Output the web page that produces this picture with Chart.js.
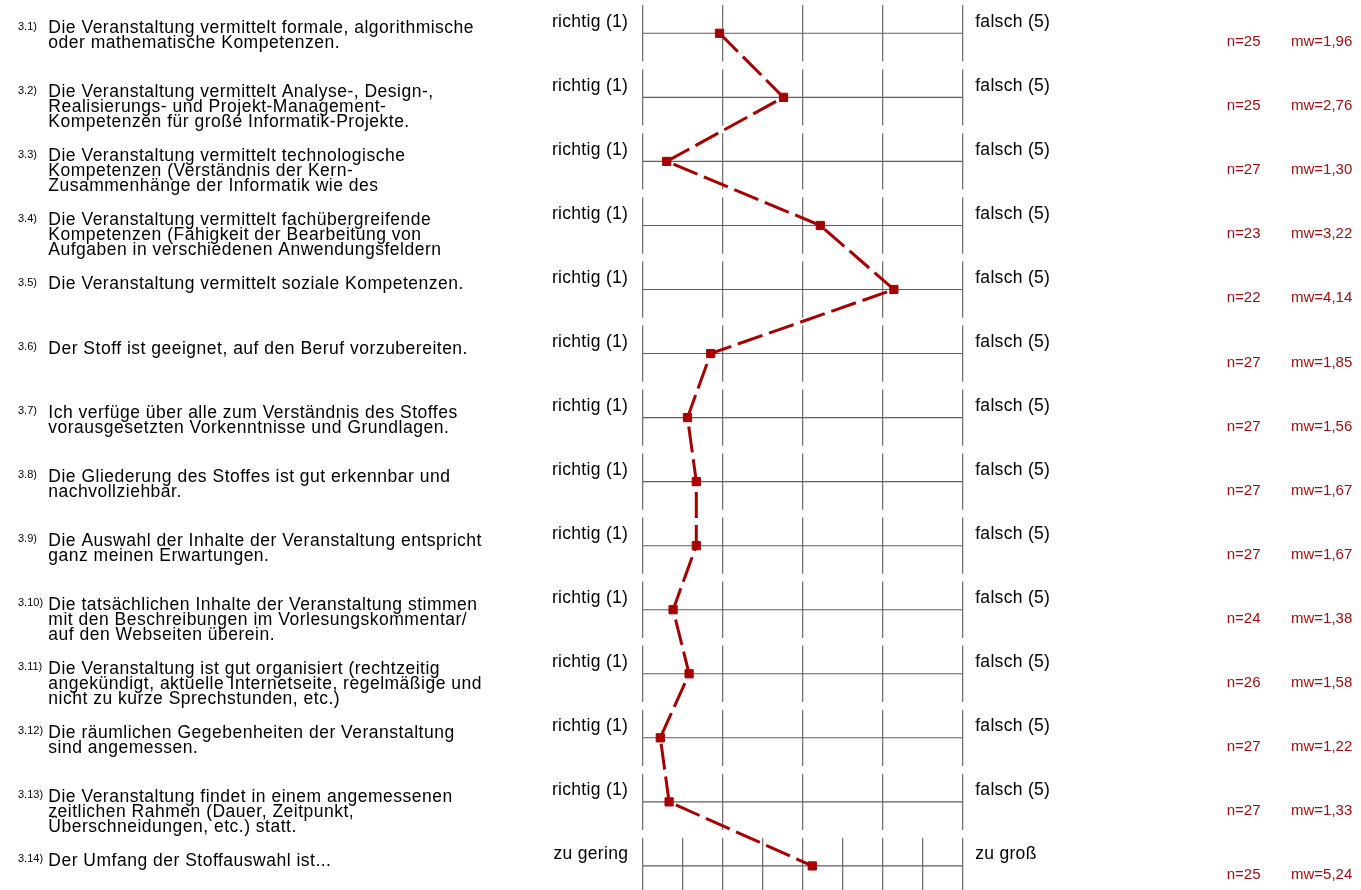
<!DOCTYPE html>
<html>
<head>
<meta charset="utf-8">
<script src="https://cdn.jsdelivr.net/npm/chart.js@4"></script>
<style>
  html, body { margin: 0; padding: 0; background: #fff; }
  #wrap { width: 1361px; height: 890px; position: relative; }
</style>
</head>
<body>
<div id="wrap"><canvas id="profile"></canvas></div>
<script>
// Data
const itemNumbers = ['3.1)', '3.2)', '3.3)', '3.4)', '3.5)', '3.6)', '3.7)',
  '3.8)', '3.9)', '3.10)', '3.11)', '3.12)', '3.13)', '3.14)'];

const questions = [
  ['Die Veranstaltung vermittelt formale, algorithmische', 'oder mathematische Kompetenzen.'],
  ['Die Veranstaltung vermittelt Analyse-, Design-,', 'Realisierungs- und Projekt-Management-', 'Kompetenzen für große Informatik-Projekte.'],
  ['Die Veranstaltung vermittelt technologische', 'Kompetenzen (Verständnis der Kern-', 'Zusammenhänge der Informatik wie des'],
  ['Die Veranstaltung vermittelt fachübergreifende', 'Kompetenzen (Fähigkeit der Bearbeitung von', 'Aufgaben in verschiedenen Anwendungsfeldern'],
  ['Die Veranstaltung vermittelt soziale Kompetenzen.'],
  ['Der Stoff ist geeignet, auf den Beruf vorzubereiten.'],
  ['Ich verfüge über alle zum Verständnis des Stoffes', 'vorausgesetzten Vorkenntnisse und Grundlagen.'],
  ['Die Gliederung des Stoffes ist gut erkennbar und', 'nachvollziehbar.'],
  ['Die Auswahl der Inhalte der Veranstaltung entspricht', 'ganz meinen Erwartungen.'],
  ['Die tatsächlichen Inhalte der Veranstaltung stimmen', 'mit den Beschreibungen im Vorlesungskommentar/', 'auf den Webseiten überein.'],
  ['Die Veranstaltung ist gut organisiert (rechtzeitig', 'angekündigt, aktuelle Internetseite, regelmäßige und', 'nicht zu kurze Sprechstunden, etc.)'],
  ['Die räumlichen Gegebenheiten der Veranstaltung', 'sind angemessen.'],
  ['Die Veranstaltung findet in einem angemessenen', 'zeitlichen Rahmen (Dauer, Zeitpunkt,', 'Überschneidungen, etc.) statt.'],
  ['Der Umfang der Stoffauswahl ist...']
];

const leftLabels = ['richtig (1)', 'richtig (1)', 'richtig (1)', 'richtig (1)', 'richtig (1)',
  'richtig (1)', 'richtig (1)', 'richtig (1)', 'richtig (1)', 'richtig (1)',
  'richtig (1)', 'richtig (1)', 'richtig (1)', 'zu gering'];
const rightLabels = ['falsch (5)', 'falsch (5)', 'falsch (5)', 'falsch (5)', 'falsch (5)',
  'falsch (5)', 'falsch (5)', 'falsch (5)', 'falsch (5)', 'falsch (5)',
  'falsch (5)', 'falsch (5)', 'falsch (5)', 'zu groß'];

// number of answer steps on each scale
const scaleSteps = [5, 5, 5, 5, 5, 5, 5, 5, 5, 5, 5, 5, 5, 9];
const counts = [25, 25, 27, 23, 22, 27, 27, 27, 27, 24, 26, 27, 27, 25];
const means = [1.96, 2.76, 1.30, 3.22, 4.14, 1.85, 1.56, 1.67, 1.67, 1.38, 1.58, 1.22, 1.33, 5.24];

const RED = '#a80000';
const TEXT_RED = '#a30d0d';
const GRID = '#5e5e5e';
const FONT = '"Liberation Sans", Arial, sans-serif';

// position on the bar as a fraction 0..1 of the scale
const points = means.map((m, i) => ({ x: (m - 1) / (scaleSteps[i] - 1), y: i }));

const rowGrid = {
  id: 'rowGrid',
  beforeDatasetsDraw(chart) {
    const { ctx, scales: { x, y } } = chart;
    ctx.save();
    ctx.strokeStyle = GRID;
    ctx.lineWidth = 1.1;
    scaleSteps.forEach((steps, i) => {
      const yc = y.getPixelForValue(i);
      const y0 = y.getPixelForValue(i - 0.44);
      const y1 = y.getPixelForValue(i + 0.44);
      ctx.beginPath();
      ctx.moveTo(x.getPixelForValue(0), yc);
      ctx.lineTo(x.getPixelForValue(1), yc);
      for (let k = 0; k < steps; k++) {
        const px = x.getPixelForValue(k / (steps - 1));
        ctx.moveTo(px, y0);
        ctx.lineTo(px, y1);
      }
      ctx.stroke();
    });
    ctx.restore();
  },
  afterDraw(chart) {
    const { ctx, scales: { x, y } } = chart;
    ctx.save();
    ctx.textBaseline = 'alphabetic';
    questions.forEach((lines, i) => {
      const yc = y.getPixelForValue(i);
      ctx.fillStyle = '#000';
      ctx.textAlign = 'left';
      ctx.letterSpacing = '0px';
      ctx.font = '11px ' + FONT;
      ctx.fillText(itemNumbers[i], 18, yc - 3.5);

      ctx.font = '17.5px ' + FONT;
      ctx.letterSpacing = '0.5px';
      lines.forEach((t, j) => ctx.fillText(t, 48.3, yc + j * 15));

      ctx.letterSpacing = '0.3px';
      ctx.textAlign = 'right';
      ctx.fillText(leftLabels[i], x.getPixelForValue(0) - 14.5, yc - 6.5);
      ctx.textAlign = 'left';
      ctx.fillText(rightLabels[i], x.getPixelForValue(1) + 12.5, yc - 6.5);

      ctx.letterSpacing = '0px';
      ctx.fillStyle = TEXT_RED;
      ctx.font = '15px ' + FONT;
      ctx.fillText('n=' + counts[i], 1226.7, yc + 13);
      ctx.fillText('mw=' + means[i].toFixed(2).replace('.', ','), 1291, yc + 13);
    });
    ctx.restore();
  }
};

new Chart(document.getElementById('profile'), {
  type: 'line',
  data: {
    datasets: [{
      data: points,
      borderColor: RED,
      backgroundColor: RED,
      borderWidth: 3,
      borderDash: [26, 7],
      tension: 0,
      fill: false,
      clip: false,
      pointStyle: 'rect',
      pointRadius: 5.8,
      pointBorderWidth: 1,
      pointBorderColor: RED,
      pointBackgroundColor: RED
    }]
  },
  options: {
    responsive: true,
    maintainAspectRatio: false,
    animation: false,
    layout: { autoPadding: false, padding: { left: 642.7, right: 398.3, top: 0, bottom: 0 } },
    plugins: { legend: { display: false }, tooltip: { enabled: false } },
    scales: {
      x: { type: 'linear', min: 0, max: 1, display: false },
      y: { type: 'linear', min: -0.52, max: 13.376, reverse: true, display: false }
    }
  },
  plugins: [rowGrid]
});
</script>
</body>
</html>
